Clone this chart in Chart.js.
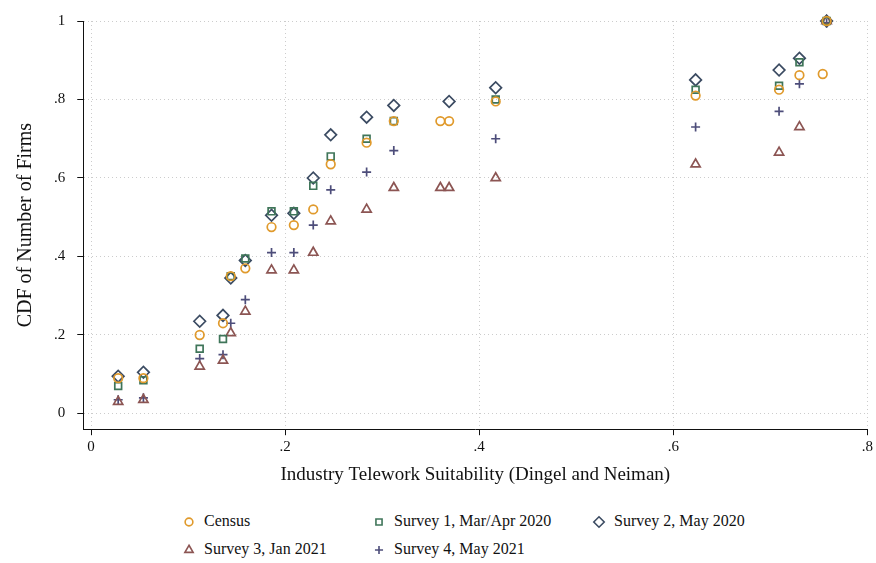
<!DOCTYPE html>
<html>
<head>
<meta charset="utf-8">
<script src="https://cdn.jsdelivr.net/npm/chart.js@4"></script>
<style>
  body { margin: 0; background: #fff; font-family: "Liberation Serif", serif; }
  #wrap { position: relative; width: 876px; height: 490px; }
  #legend { position: absolute; left: 182px; top: 512px; font-size: 16px; color: #111; }
  .item { position: absolute; white-space: nowrap; }
  .item canvas { vertical-align: middle; margin-right: 8px; }
</style>
</head>
<body>
<div id="wrap"><canvas id="myChart" width="876" height="490"></canvas></div>
<div id="legend"></div>
<script>
// Telework suitability (x) for each industry
const xCensus = [0.028, 0.054, 0.112, 0.136, 0.144, 0.159, 0.186, 0.209, 0.229, 0.247, 0.284, 0.312, 0.360, 0.369, 0.417, 0.623, 0.709, 0.730, 0.754, 0.758];
const yCensus = [0.09, 0.09, 0.20, 0.23, 0.35, 0.37, 0.475, 0.48, 0.52, 0.635, 0.69, 0.745, 0.745, 0.745, 0.795, 0.81, 0.825, 0.862, 0.865, 1.0];
const xSurvey = [0.028, 0.054, 0.112, 0.136, 0.144, 0.159, 0.186, 0.209, 0.229, 0.247, 0.284, 0.312, 0.417, 0.623, 0.709, 0.730, 0.758];
const ySurvey1 = [0.07, 0.085, 0.165, 0.19, 0.35, 0.395, 0.515, 0.515, 0.58, 0.655, 0.70, 0.745, 0.80, 0.825, 0.835, 0.895, 1.0];
const xSurvey2 = [0.028, 0.054, 0.112, 0.136, 0.144, 0.159, 0.186, 0.209, 0.229, 0.247, 0.284, 0.312, 0.369, 0.417, 0.623, 0.709, 0.730, 0.758];
const ySurvey2 = [0.095, 0.105, 0.235, 0.25, 0.345, 0.39, 0.505, 0.51, 0.60, 0.71, 0.755, 0.785, 0.795, 0.83, 0.85, 0.875, 0.905, 1.0];
const xSurvey3 = [0.028, 0.054, 0.112, 0.136, 0.144, 0.159, 0.186, 0.209, 0.229, 0.247, 0.284, 0.312, 0.360, 0.369, 0.417, 0.623, 0.709, 0.730, 0.758];
const ySurvey3 = [0.03, 0.035, 0.12, 0.135, 0.205, 0.26, 0.365, 0.365, 0.41, 0.49, 0.52, 0.575, 0.575, 0.575, 0.60, 0.635, 0.665, 0.73, 1.0];
const ySurvey4 = [0.035, 0.04, 0.14, 0.15, 0.23, 0.29, 0.41, 0.41, 0.48, 0.57, 0.615, 0.67, 0.70, 0.73, 0.77, 0.84, 0.995];
const xTicks = [0, 0.2, 0.4, 0.6, 0.8];
const yTicks = [0, 0.2, 0.4, 0.6, 0.8, 1];

function pts(xs, ys) { return xs.map((x, i) => ({ x: x, y: ys[i] })); }
function fmt(v) { return v === 0 ? "0" : (v === 1 ? "1" : String(+v.toFixed(1)).replace(/^0/, "")); }

const series = [
  { label: "Census", data: pts(xCensus, yCensus), color: "#e09a2c", style: "circle", r: 4.3 },
  { label: "Survey 1, Mar/Apr 2020", data: pts(xSurvey, ySurvey1), color: "#3f7559", style: "rect", r: 4.8 },
  { label: "Survey 2, May 2020", data: pts(xSurvey2, ySurvey2), color: "#3b4b62", style: "rectRot", r: 5.8 },
  { label: "Survey 3, Jan 2021", data: pts(xSurvey3, ySurvey3), color: "#8c5553", style: "triangle", r: 5.3 },
  { label: "Survey 4, May 2021", data: pts(xSurvey, ySurvey4), color: "#4d4d7a", style: "cross", r: 4.5 }
];

Chart.defaults.font.family = "'Liberation Serif', serif";
Chart.defaults.color = "#111";

new Chart(document.getElementById("myChart"), {
  type: "scatter",
  data: {
    datasets: series.map(s => ({
      label: s.label, data: s.data,
      pointStyle: s.style, pointRadius: s.r,
      borderColor: s.color, backgroundColor: "rgba(0,0,0,0)",
      borderWidth: 1.7, clip: false
    }))
  },
  options: {
    responsive: false, animation: false,
    layout: { padding: { top: 13, right: 8, left: 10 } },
    plugins: { legend: { display: false }, tooltip: { enabled: false } },
    scales: {
      x: {
        min: -0.008, max: 0.8,
        afterBuildTicks: a => { a.ticks = xTicks.map(v => ({ value: v })); },
        ticks: { callback: v => fmt(v), font: { size: 15 }, maxRotation: 0 },
        grid: { color: "#ccc", lineWidth: 1, tickColor: "#111", tickLength: 6 },
        border: { color: "#111", dash: [1, 3] },
        title: { display: true, text: "Industry Telework Suitability (Dingel and Neiman)", font: { size: 19 } }
      },
      y: {
        min: -0.04, max: 1.0,
        afterBuildTicks: a => { a.ticks = yTicks.map(v => ({ value: v })); },
        ticks: { callback: v => fmt(v), font: { size: 15 }, padding: 12 },
        grid: { color: "#ccc", lineWidth: 1, tickColor: "#111", tickLength: 6 },
        border: { color: "#111", dash: [1, 3] },
        title: { display: true, text: "CDF of Number of Firms", font: { size: 20 } }
      }
    }
  }
});

// HTML legend, three columns
const pos = [[0, 0], [190, 0], [410, 0], [0, 28], [190, 28]];
const leg = document.getElementById("legend");
series.forEach((s, i) => {
  const d = document.createElement("div");
  d.className = "item";
  d.style.left = pos[i][0] + "px"; d.style.top = pos[i][1] + "px";
  const cv = document.createElement("canvas");
  cv.width = 14; cv.height = 14;
  const g = cv.getContext("2d");
  g.strokeStyle = s.color; g.fillStyle = "rgba(0,0,0,0)"; g.lineWidth = 1.6;
  Chart.helpers.drawPoint(g, { pointStyle: s.style, radius: s.r * 0.9, rotation: 0, borderWidth: 1.6 }, 7, 7);
  d.appendChild(cv);
  d.appendChild(document.createTextNode(s.label));
  leg.appendChild(d);
});
</script>
</body>
</html>
